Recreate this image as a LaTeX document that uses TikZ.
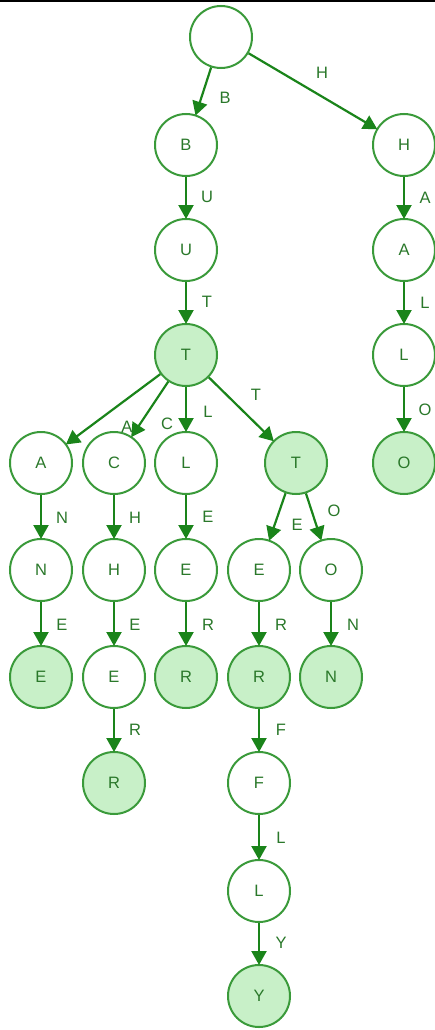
\documentclass[tikz,border=0pt]{standalone}
\usepackage{fontspec}
\setmainfont{Liberation Sans}
\usetikzlibrary{arrows.meta}
\definecolor{ring}{HTML}{3A9A3A}
\definecolor{leaf}{HTML}{C8F0C8}
\definecolor{edgec}{HTML}{1A841A}
\definecolor{txt}{HTML}{2A782A}
\tikzset{
  st/.style={circle, draw=ring, line width=2pt, minimum size=62pt, inner sep=0pt, fill=white,
    font=\fontsize{16.5}{16.5}\selectfont, text=txt},
  fin/.style={st, fill=leaf},
  arr/.style={draw=edgec, line width=2.2pt, -{Triangle[length=14pt,width=15pt]}, shorten >=-1pt},
  lab/.style={font=\fontsize{16.5}{16.5}\selectfont, text=txt, inner sep=0pt}
}
\begin{document}
\begin{tikzpicture}[x=1pt,y=-1pt]
\useasboundingbox (0,0) rectangle (435,1030);
\fill[white] (0,0) rectangle (435,1030);
\draw[black, line width=2pt] (0,1) -- (435,1);
% nodes
\node[st]  (root) at (221,37) {};
\node[st]  (b)  at (186,145) {B};
\node[st]  (h)  at (404,145) {H};
\node[st]  (u)  at (186,250) {U};
\node[st]  (ha) at (404,250) {A};
\node[fin] (t)  at (186,355) {T};
\node[st]  (hl) at (404,355) {L};
\node[fin] (ho) at (404,463) {O};
\node[st]  (a)  at (41,463) {A};
\node[st]  (c)  at (114,463) {C};
\node[st]  (l)  at (186,463) {L};
\node[fin] (tt) at (296,463) {T};
\node[st]  (n)  at (41,570) {N};
\node[st]  (ch) at (114,570) {H};
\node[st]  (le) at (186,570) {E};
\node[st]  (te) at (259,570) {E};
\node[st]  (to) at (331,570) {O};
\node[fin] (ne) at (41,677) {E};
\node[st]  (he) at (114,677) {E};
\node[fin] (er) at (186,677) {R};
\node[fin] (tr) at (259,677) {R};
\node[fin] (on) at (331,677) {N};
\node[fin] (hr) at (114,783) {R};
\node[st]  (f)  at (259,783) {F};
\node[st]  (fl) at (259,891) {L};
\node[fin] (y)  at (259,996) {Y};
% edges
\draw[arr] (root) -- (b);
\draw[arr] (root) -- (h);
\draw[arr] (b) -- (u);
\draw[arr] (h) -- (ha);
\draw[arr] (u) -- (t);
\draw[arr] (ha) -- (hl);
\draw[arr] (hl) -- (ho);
\draw[arr] (t) -- (a);
\draw[arr] (t) -- (c);
\draw[arr] (t) -- (l);
\draw[arr] (t) -- (tt);
\draw[arr] (a) -- (n);
\draw[arr] (c) -- (ch);
\draw[arr] (l) -- (le);
\draw[arr] (tt) -- (te);
\draw[arr] (tt) -- (to);
\draw[arr] (n) -- (ne);
\draw[arr] (ch) -- (he);
\draw[arr] (le) -- (er);
\draw[arr] (te) -- (tr);
\draw[arr] (to) -- (on);
\draw[arr] (he) -- (hr);
\draw[arr] (tr) -- (f);
\draw[arr] (f) -- (fl);
\draw[arr] (fl) -- (y);
% labels
\node[lab] (lb)  at (225,98)  {B};
\node[lab] (lh)  at (322,73)  {H};
\node[lab] (lu)  at (207,197) {U};
\node[lab] (lha) at (425,198) {A};
\node[lab] (lt)  at (207,302) {T};
\node[lab] (lhl) at (425,303) {L};
\node[lab] (lho) at (425,410) {O};
\node[lab] (la)  at (127,427) {A};
\node[lab] (lc)  at (167,424) {C};
\node[lab] (ll)  at (208,412) {L};
\node[lab] (ltt) at (256,395) {T};
\node[lab] (ln)  at (62,518)  {N};
\node[lab] (lch) at (135,518) {H};
\node[lab] (lle) at (208,517) {E};
\node[lab] (lte) at (297,525) {E};
\node[lab] (lto) at (334,511) {O};
\node[lab] (lne) at (62,625)  {E};
\node[lab] (lhe) at (135,625) {E};
\node[lab] (ler) at (208,625) {R};
\node[lab] (ltr) at (281,625) {R};
\node[lab] (lon) at (353,625) {N};
\node[lab] (lhr) at (135,730) {R};
\node[lab] (lf)  at (281,730) {F};
\node[lab] (lfl) at (281,838) {L};
\node[lab] (ly)  at (281,943) {Y};
\end{tikzpicture}
\end{document}
